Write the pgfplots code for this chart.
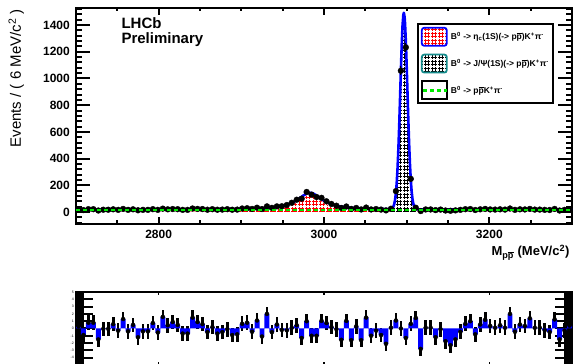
\documentclass[border=0pt]{standalone}
\usepackage{fontspec}
\setmainfont{Liberation Sans}
\usepackage{pgfplots}
\usepackage{pgfplotstable}
\pgfplotsset{compat=1.18}
\usetikzlibrary{patterns}

\pgfdeclarepatternformonly{plus}{\pgfqpoint{-0.5pt}{-0.5pt}}{\pgfqpoint{4pt}{4pt}}{\pgfqpoint{3.5pt}{3.5pt}}{%
 \pgfsetlinewidth{0.8pt}%
 \pgfpathmoveto{\pgfqpoint{0.25pt}{1.75pt}}\pgfpathlineto{\pgfqpoint{3.25pt}{1.75pt}}%
 \pgfpathmoveto{\pgfqpoint{1.75pt}{0.25pt}}\pgfpathlineto{\pgfqpoint{1.75pt}{3.25pt}}%
 \pgfusepath{stroke}}

\definecolor{rootgreen}{RGB}{0,235,0}
\definecolor{rootteal}{RGB}{20,140,140}
\newcommand{\pbar}{$\overline{\mbox{p}}$}

\pgfplotstableread{
x y e
2703 19 4.4
2709 14 3.7
2715 21 4.6
2721 21 4.6
2727 11 3.3
2733 17 4.1
2739 17 4.1
2745 20 4.5
2751 16 4.0
2757 23 4.8
2763 16 4.0
2769 20 4.5
2775 13 3.6
2781 16 4.0
2787 16 4.0
2793 21 4.6
2799 16 4.0
2805 25 5.0
2811 20 4.5
2817 22 4.7
2823 21 4.6
2829 16 4.0
2835 16 4.0
2841 26 5.1
2847 23 4.8
2853 22 4.7
2859 17 4.1
2865 21 4.6
2871 17 4.1
2877 18 4.2
2883 21 4.6
2889 17 4.1
2895 18 4.2
2901 26 5.1
2907 28 5.3
2913 23 4.8
2919 32 5.7
2925 22 4.7
2931 42 6.5
2937 31 5.6
2943 42 6.5
2949 43 6.6
2955 52 7.2
2961 69 8.3
2967 92 9.6
2973 100 10.0
2979 150 12.2
2985 130 11.4
2991 112 10.6
2997 106 10.3
3003 80 8.9
3009 60 7.7
3015 47 6.9
3021 30 5.5
3027 41 6.4
3033 23 4.8
3039 30 5.5
3045 19 4.4
3051 33 5.7
3057 19 4.4
3063 22 4.7
3069 18 4.2
3075 12 3.5
3081 24 4.9
3087 156 12.5
3093 1058 32.5
3099 1233 35.1
3105 248 15.7
3111 32 5.7
3117 7 2.6
3123 19 4.4
3129 19 4.4
3135 14 3.7
3141 18 4.2
3147 11 3.3
3153 9 3.0
3159 12 3.5
3165 16 4.0
3171 21 4.6
3177 22 4.7
3183 15 3.9
3189 20 4.5
3195 23 4.8
3201 19 4.4
3207 18 4.2
3213 20 4.5
3219 18 4.2
3225 26 5.1
3231 16 4.0
3237 20 4.5
3243 19 4.4
3249 23 4.8
3255 18 4.2
3261 18 4.2
3267 16 4.0
3273 15 3.9
3279 23 4.8
3285 11 3.3
3291 16 4.0
3297 19 4.4
}\datatab

\pgfplotstableread{
x p
2703 0.3
2709 -0.9
2715 0.8
2721 0.8
2727 -1.5
2733 -0.05
2739 -0.05
2745 0.6
2751 -0.3
2757 1.3
2763 -0.4
2769 0.5
2775 -1.2
2781 -0.4
2787 -0.4
2793 0.75
2799 -0.55
2805 1.6
2811 0.45
2817 0.9
2823 0.5
2829 -0.7
2835 -0.7
2841 1.5
2847 0.9
2853 0.6
2859 -0.5
2865 0.2
2871 -0.7
2877 -0.5
2883 -0.1
2889 -0.9
2895 -0.8
2901 0.65
2907 0.8
2913 -0.45
2919 1.1
2925 -1.1
2931 2.0
2937 -0.5
2943 0.55
2949 -0.2
2955 -0.25
2961 0.1
2967 0.45
2973 -1.3
2979 1.0
2985 -1.0
2991 -1.0
2997 1.05
3003 0.75
3009 0.2
3015 -0.1
3021 -1.55
3027 1.05
3033 -1.6
3039 0.3
3045 -1.6
3051 1.5
3057 -1.0
3063 -0.3
3069 -0.9
3075 -2.1
3081 0.1
3087 1.1
3093 0.0
3099 -1.3
3105 0.65
3111 1.45
3117 -2.8
3123 0.1
3129 0.1
3135 -1.2
3141 -0.1
3147 -1.75
3153 -2.3
3159 -1.5
3165 -0.45
3171 0.65
3177 1.0
3183 -0.8
3189 0.55
3195 1.2
3201 0.35
3207 0.1
3213 0.45
3219 0.1
3225 2.0
3231 -0.45
3237 0.55
3243 0.35
3249 1.4
3255 0.1
3261 0.1
3267 -0.25
3273 -0.5
3279 1.25
3285 -1.5
3291 -0.3
3297 0.4
}\pulltab

\pgfplotstableread{
x y
2700 17.5
2720 17.6
2740 17.7
2760 17.8
2780 18.0
2800 18.2
2820 18.5
2840 19.0
2860 19.7
2880 20.8
2900 22.7
2910 24.3
2920 26.6
2930 30.1
2940 35.9
2950 46.1
2955 54.1
2960 65.2
2965 80.5
2970 100.5
2975 123.1
2979 138.0
2981 142.5
2983 144.0
2985 142.4
2987 138.0
2991 123.1
2996 100.5
3001 80.5
3006 65.2
3011 54.1
3016 46.1
3026 35.9
3036 30.1
3046 26.6
3056 24.3
3066 22.7
3076 21.6
3080 22.1
3083 30.9
3084 41.0
3085 59.5
3086 91.4
3087 142.6
3088 219.9
3089 329.6
3090 474.3
3091 650.4
3092 851.0
3093 1057.8
3094 1246.3
3095 1393.8
3096 1478.2
3096.6 1492.2
3097.5 1460.1
3098 1415.7
3099 1279.6
3100 1097.3
3101 892.3
3102 689.2
3103 506.3
3104 354.8
3105 238.3
3106 154.7
3107 98.8
3108 63.6
3109 42.6
3110 31.0
3111 24.9
3113 20.4
3116 19.3
3126 19.0
3136 18.7
3156 18.4
3176 18.1
3200 17.9
3220 17.7
3240 17.6
3260 17.5
3280 17.5
3300 17.4
}\totaltab

\pgfplotstableread{
x y
2700 0.51
2720 0.59
2740 0.69
2760 0.82
2780 0.99
2800 1.22
2820 1.53
2840 1.98
2860 2.66
2880 3.76
2900 5.70
2910 7.28
2920 9.58
2930 13.13
2940 18.94
2950 29.12
2955 37.14
2960 48.24
2965 63.5
2970 83.5
2975 106.1
2979 121.0
2981 125.5
2983 127.0
2985 125.4
2987 121.0
2991 106.1
2996 83.5
3001 63.5
3006 48.2
3011 37.1
3016 29.1
3026 18.9
3036 13.1
3046 9.6
3056 7.3
3066 5.7
3076 4.59
3086 3.76
3096 3.14
3106 2.66
3116 2.28
3136 1.73
3156 1.36
3176 1.10
3200 0.87
3220 0.73
3240 0.62
3260 0.53
3280 0.46
3300 0.41
}\etatab

\pgfplotstableread{
x y
3076 0
3080 0.85
3083 9.9
3084 20.1
3085 38.7
3086 70.6
3087 121.9
3088 199.3
3089 309.0
3090 453.8
3091 630.0
3092 830.6
3093 1037.5
3094 1226.0
3095 1373.6
3096 1458.0
3096.6 1472.0
3097.5 1440.0
3098 1395.7
3099 1259.6
3100 1077.4
3101 872.4
3102 669.3
3103 486.5
3104 335.0
3105 218.6
3106 135.0
3107 79.2
3108 44.0
3109 23.1
3110 11.5
3111 5.4
3113 1.0
3116 0
}\jpsitab

\begin{document}
\begin{tikzpicture}
\path[use as bounding box] (0pt,0pt) rectangle (576pt,364pt);

% main upper axis: plots, y ticks, frame
\begin{axis}[
  at={(76pt,140pt)}, anchor=south west, scale only axis,
  width=496pt, height=216pt,
  xmin=2700, xmax=3300, ymin=-90, ymax=1528,
  xtick=\empty,
  ytick={0,200,...,1400}, minor ytick={-80,-40,...,1520},
  tick align=inside,
  major tick length=14pt, minor tick length=6pt,
  axis line style={line width=2.5pt},
  every tick/.append style={line width=2pt, black},
  every minor tick/.append style={line width=2pt, black},
  clip marker paths=true,
  yticklabel style={font=\bfseries\fontsize{12}{12}\selectfont, inner sep=0pt, anchor=east, xshift=-6pt},
  /pgf/number format/assume math mode=true,
  /pgf/number format/1000 sep={},
  xlabel={M\textsubscript{p\pbar} (MeV/c\textsuperscript{2})},
  xlabel style={at={(axis description cs:1.002,-0.148)}, anchor=base east, font=\bfseries\fontsize{13}{13}\selectfont},
  ylabel={Events / ( 6 MeV/c\textsuperscript{2} )},
  ylabel style={at={(axis description cs:-0.1109,0.674)}, anchor=base, font=\fontsize{15}{15}\selectfont},
  legend style={at={(0.6875,0.9306)}, anchor=north west, draw=black, line width=1.8pt, fill=white,
    inner xsep=3pt, inner ysep=3pt, row sep=7pt, column sep=2pt,
    font=\bfseries\fontsize{8.5}{10}\selectfont, nodes={inner sep=1pt}, cells={anchor=west}},
  legend cell align=left,
]
\addplot[forget plot, draw=none, pattern=plus, pattern color=red] table[x=x,y=y]{\etatab} \closedcycle;
\addplot[forget plot, draw=none, pattern=plus, pattern color=black] table[x=x,y=y]{\jpsitab} \closedcycle;
\addplot[forget plot, blue, line width=2.6pt, line join=round] table[x=x,y=y]{\totaltab};
\addplot[forget plot, only marks, mark=*, mark size=2.9pt, black,
  error bars/.cd, y dir=both, y explicit, error mark=none, error bar style={line width=0.8pt}]
  table[x=x,y=y,y error=e]{\datatab};
\addplot[forget plot, rootgreen, line width=2.4pt, dash pattern=on 4pt off 3pt] coordinates {(2700,17) (3300,17)};

\addlegendimage{legend image code/.code={\draw[draw=blue, line width=1.8pt, rounded corners=2.5pt, pattern=plus, pattern color=red] (0pt,-9pt) rectangle (25pt,9pt);}}
\addlegendentry{B\textsuperscript{0} -> η\textsubscript{c}(1S)(-> p\pbar)K\textsuperscript{+}π\textsuperscript{-}}
\addlegendimage{legend image code/.code={\draw[draw=rootteal, line width=1.8pt, rounded corners=2.5pt, pattern=plus, pattern color=black] (0pt,-9pt) rectangle (25pt,9pt);}}
\addlegendentry{B\textsuperscript{0} -> J/Ψ(1S)(-> p\pbar)K\textsuperscript{+}π\textsuperscript{-}}
\addlegendimage{legend image code/.code={\path (0pt,-9pt) rectangle (25pt,9pt); \draw[rootgreen, line width=2.4pt, dash pattern=on 4pt off 3pt] (1pt,0pt) -- (25pt,0pt);}}
\addlegendentry{B\textsuperscript{0} -> p\pbar K\textsuperscript{+}π\textsuperscript{-}}
\end{axis}

% overlay upper axis: x ticks and labels only
\begin{axis}[
  at={(76pt,140pt)}, anchor=south west, scale only axis,
  width=496pt, height=216pt,
  xmin=2700, xmax=3300, ymin=-90, ymax=1528,
  xtick={2800,3000,3200}, minor xtick={2700,2750,...,3300},
  ytick=\empty,
  tick align=inside,
  major tick length=7pt, minor tick length=3.5pt,
  axis line style={draw=none},
  every tick/.append style={line width=2pt, black},
  every minor tick/.append style={line width=2pt, black},
  xticklabel style={font=\bfseries\fontsize{12}{12}\selectfont, inner sep=0pt, anchor=north, yshift=-6pt},
  /pgf/number format/assume math mode=true,
  /pgf/number format/1000 sep={},
]
\end{axis}

% pull axis: bars, y ticks, frame
\begin{axis}[
  at={(76pt,-1pt)}, anchor=south west, scale only axis,
  width=496pt, height=73pt,
  xmin=2700, xmax=3300, ymin=-5, ymax=5,
  xtick=\empty,
  ytick={-5,-4,...,5}, yticklabels={,-4,-3,-2,-1,0,1,2,3,4,5}, minor y tick num=4,
  tick align=inside,
  major tick length=17pt, minor tick length=8pt,
  axis line style={line width=2.5pt},
  every tick/.append style={line width=2pt, black},
  every minor tick/.append style={line width=1.8pt, black},
  yticklabel style={font=\fontsize{3.5}{4}\selectfont, inner sep=0pt, anchor=east, xshift=-2pt},
]
\addplot[only marks, mark=none, black,
  error bars/.cd, y dir=both, y fixed=1, error mark=none, error bar style={line width=2.6pt, black}]
  table[x=x,y=p]{\pulltab};
\addplot[ybar, bar width=6, bar shift=0pt, fill=blue, draw=none] table[x=x,y=p]{\pulltab};
\end{axis}

% pull overlay: x ticks only
\begin{axis}[
  at={(76pt,-1pt)}, anchor=south west, scale only axis,
  width=496pt, height=73pt,
  xmin=2700, xmax=3300, ymin=-5, ymax=5,
  xtick={2800,3000,3200}, xticklabels={},
  ytick=\empty,
  tick align=inside,
  major tick length=3pt,
  axis line style={draw=none},
  every tick/.append style={line width=1.5pt, black},
]
\end{axis}

\node[anchor=base west, font=\bfseries\fontsize{15}{15}\selectfont] at (118pt,335.7pt) {LHCb};
\node[anchor=base west, font=\bfseries\fontsize{15}{15}\selectfont] at (118pt,320.7pt) {Preliminary};
\end{tikzpicture}
\end{document}
